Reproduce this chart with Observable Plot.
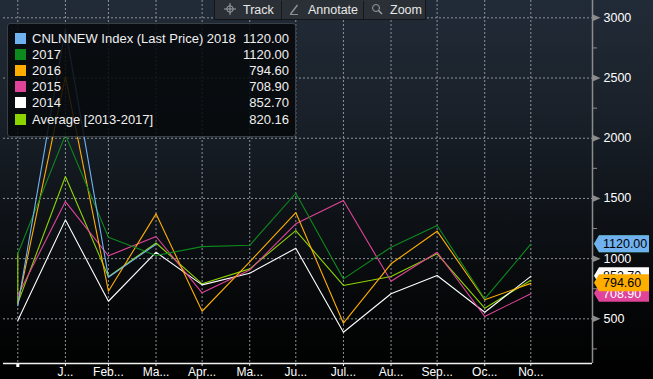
<!DOCTYPE html>
<html><head><meta charset="utf-8">
<script src="https://cdn.jsdelivr.net/npm/d3@7"></script>
<script src="https://cdn.jsdelivr.net/npm/@observablehq/plot@0.6"></script>
<style>
html,body{margin:0;padding:0;background:#000;}
#wrap{position:relative;width:653px;height:379px;overflow:hidden;
 background:linear-gradient(to bottom,#212b37 0px,#1a212a 110px,#0e1217 220px,#050607 310px,#000 379px);
 font-family:"Liberation Sans",Arial,sans-serif;color:#f0f0f0;}
#wrap svg{position:absolute;left:0;top:0;}
.legend{position:absolute;left:7px;top:23px;width:287px;height:112px;border:1px solid #3a3f45;border-radius:3px;background:rgba(6,8,10,0.86);}
.row{position:absolute;left:0;width:287px;height:16px;font-size:13px;line-height:16px;}
.sw{position:absolute;left:7px;top:2px;width:11px;height:11px;}
.lab{position:absolute;left:24px;top:0;white-space:nowrap;}
.val{position:absolute;right:6px;top:0;white-space:nowrap;}
.toolbar{position:absolute;left:214px;top:-1px;width:212px;height:21px;background:#2b3036;border:1px solid #131518;box-sizing:border-box;font-size:12.5px;color:#e8e8e8;}
.ic{position:absolute;top:3px;}
.tx{position:absolute;top:2px;line-height:16px;white-space:nowrap;}
.sep{position:absolute;top:1px;width:1px;height:18px;background:#16181b;}
</style></head><body><div id="wrap"></div>
<script>
// ---- data ----
const dates = ["2017-12-31","2018-01-31","2018-02-28","2018-03-31","2018-04-30","2018-05-31","2018-06-30","2018-07-31","2018-08-31","2018-09-30","2018-10-31","2018-11-30"];
const monthLabels = ["J...","Feb...","Ma...","Apr...","Ma...","Ju...","Jul...","Au...","Sep...","Oc...","No..."];
const s2018 = [610, 2910, 846, 1120];
const s2017 = [1040, 2028, 1178, 1026, 1100, 1111, 1543, 832, 1095, 1275, 666, 1120];
const s2016 = [625, 2512, 729, 1372, 563, 973, 1383, 464, 957, 1228, 658, 794.6];
const s2015 = [693, 1474, 1023, 1184, 716, 905, 1289, 1483, 812, 1053, 519, 708.9];
const s2014 = [486, 1322, 646, 1053, 782, 879, 1086, 389, 708, 860, 555, 852.7];
const avgOpen = 1040;
const avg = [630, 1682, 850, 1130, 791, 915, 1233, 777, 851, 1040, 588, 820.16];
const yMajor = [500, 1000, 1500, 2000, 2500, 3000];
const yMinor = [250, 750, 1250, 1750, 2250, 2750];
const seriesNames = ["CNLNNEW Index (Last Price) 2018","2017","2016","2015","2014","Average [2013-2017]"];
const seriesColors = ["#70b2f0","#0d8a1d","#ffae00","#e0449a","#ffffff","#8cd400"];
const toolItems = ["Track","Annotate","Zoom"];

// ---- build ----
const parse = d3.utcParse("%Y-%m-%d");
const D = dates.map(parse);
const table = (arr) => arr.map((v, i) => ({date: D[i], v}));
const avgTable = [{date: D[0], v: avgOpen}, ...table(avg)];
const allSeries = [s2018, s2017, s2016, s2015, s2014, avg];
const x0 = new Date(Date.UTC(2017, 11, 21, 16, 30));
const x1 = new Date(Date.UTC(2019, 0, 9, 4));
const yLo = 129, yHi = 3144;
const labelMap = new Map(D.slice(1).map((d, i) => [+d, monthLabels[i]]));
const tri = {draw(ctx) { ctx.moveTo(-4, -3.5); ctx.lineTo(4, 0); ctx.lineTo(-4, 3.5); ctx.closePath(); }};
const font = '"Liberation Sans",Arial,sans-serif';

const chart = Plot.plot({
  width: 653, height: 379,
  marginLeft: 3, marginRight: 61, marginTop: 0, marginBottom: 16,
  style: {background: "transparent", color: "#fff", fontFamily: font, fontSize: "12px", overflow: "visible"},
  x: {type: "utc", domain: [x0, x1]},
  y: {domain: [yLo, yHi]},
  marks: [
    Plot.gridX(D, {stroke: "#8d939a", strokeOpacity: 1, strokeDasharray: "2,2"}),
    Plot.gridY(yMajor, {stroke: "#8d939a", strokeOpacity: 1, strokeDasharray: "2,2"}),
    Plot.line(avgTable, {x: "date", y: "v", stroke: seriesColors[5], strokeWidth: 1.1}),
    Plot.line(table(s2014), {x: "date", y: "v", stroke: seriesColors[4], strokeWidth: 1.1}),
    Plot.line(table(s2015), {x: "date", y: "v", stroke: seriesColors[3], strokeWidth: 1.1}),
    Plot.line(table(s2016), {x: "date", y: "v", stroke: seriesColors[2], strokeWidth: 1.1}),
    Plot.line(table(s2017), {x: "date", y: "v", stroke: seriesColors[1], strokeWidth: 1.1}),
    Plot.line(table(s2018), {x: "date", y: "v", stroke: seriesColors[0], strokeWidth: 1.1}),
    Plot.ruleY([yLo], {stroke: "#f2f2f2", strokeWidth: 1.5}),
    Plot.ruleX([x1], {stroke: "#8c8c8c", strokeWidth: 1.5}),
    Plot.axisY(yMinor, {anchor: "right", tickSize: 4, tickFormat: () => "", label: null, stroke: "#8c8c8c"}),
    Plot.axisY(yMajor, {anchor: "right", tickSize: 0, tickPadding: 11, label: null, fill: "#fff", fontSize: 12.5, tickFormat: d => String(d)}),
    Plot.dot(yMajor, {x: () => x1, y: d => d, symbol: tri, fill: "#8c8c8c", stroke: null, dx: 4}),
    Plot.axisX(D.slice(1), {tickSize: 3, tickPadding: 1, stroke: "#f2f2f2", fill: "#fff", fontSize: 12, label: null, tickFormat: d => labelMap.get(+d)}),
    Plot.dot([D[0]], {x: d => d, frameAnchor: "bottom", symbol: "square", r: 1.7, fill: "#fff", stroke: null, dy: 2})
  ]
});
const wrap = document.getElementById("wrap");
wrap.appendChild(chart);

// value tags on the right axis
const ys = chart.scale("y"), xs = chart.scale("x");
const ax = xs.apply(x1);
const tags = [
  {v: s2014[s2014.length - 1], fill: "#ffffff", text: "#000"},
  {v: s2015[s2015.length - 1], fill: "#e0449a", text: "#fff"},
  {v: s2016[s2016.length - 1], fill: "#ffae00", text: "#000"},
  {v: s2017[s2017.length - 1], fill: "#0d8a1d", text: "#fff"},
  {v: s2018[s2018.length - 1], fill: "#70b2f0", text: "#000"}
];
const g = d3.select(chart).append("g").attr("text-anchor", "start");
for (const t of tags) {
  const yc = ys.apply(t.v);
  g.append("path").attr("d", `M${ax + 2},${yc} L${ax + 7},${yc - 8.5} L${ax + 57},${yc - 8.5} L${ax + 57},${yc + 8.5} L${ax + 7},${yc + 8.5} Z`).attr("fill", t.fill);
  g.append("text").attr("x", ax + 11).attr("y", yc).attr("dy", "0.36em").attr("fill", t.text)
    .attr("text-anchor", "start").attr("font-size", 12.5).attr("font-family", font).text(t.v.toFixed(2));
}

// legend (inside the chart)
const leg = document.createElement("div");
leg.className = "legend";
seriesNames.forEach((name, i) => {
  const arr = allSeries[i];
  const r = document.createElement("div");
  r.className = "row";
  r.style.top = (7 + i * 16.1) + "px";
  r.innerHTML = `<div class="sw" style="background:${seriesColors[i]}"></div><div class="lab"></div><div class="val"></div>`;
  r.querySelector(".lab").textContent = name;
  r.querySelector(".val").textContent = arr[arr.length - 1].toFixed(2);
  leg.appendChild(r);
});
wrap.appendChild(leg);

// toolbar
const tb = document.createElement("div");
tb.className = "toolbar";
const icons = [
  `<svg width="12" height="12"><circle cx="6" cy="6" r="3.2" fill="none" stroke="#9aa0a6"/><path d="M6 0V12M0 6H12" stroke="#9aa0a6"/></svg>`,
  `<svg width="10" height="12"><path d="M1.5 11L8.5 2" stroke="#8a9096" stroke-width="1.5"/><path d="M1 11.5H9" stroke="#8a9096"/></svg>`,
  `<svg width="12" height="12"><circle cx="5" cy="5" r="3.5" fill="none" stroke="#9aa0a6"/><path d="M7.5 7.5L11 11" stroke="#9aa0a6" stroke-width="1.5"/></svg>`
];
const iconLeft = [9, 74, 156], textLeft = [28, 93, 175];
toolItems.forEach((t, i) => {
  const ic = document.createElement("div");
  ic.className = "ic"; ic.style.left = iconLeft[i] + "px"; ic.innerHTML = icons[i];
  tb.appendChild(ic);
  const s = document.createElement("div");
  s.className = "tx"; s.style.left = textLeft[i] + "px"; s.textContent = t;
  tb.appendChild(s);
});
[66, 148].forEach(l => { const s = document.createElement("div"); s.className = "sep"; s.style.left = l + "px"; tb.appendChild(s); });
wrap.appendChild(tb);
</script>
</body></html>
